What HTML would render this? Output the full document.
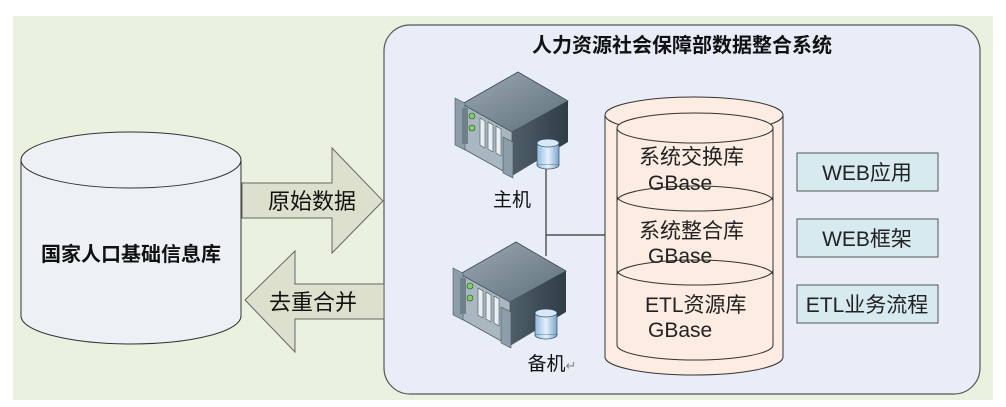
<!DOCTYPE html>
<html><head><meta charset="utf-8"><style>
html,body{margin:0;padding:0;background:#fff;}
body{width:1006px;height:407px;overflow:hidden;position:relative;font-family:"Liberation Sans","Noto Sans CJK SC",sans-serif;}
svg{position:absolute;left:0;top:0;}
</style></head><body>
<svg width="1006" height="407" viewBox="0 0 1006 407" xmlns="http://www.w3.org/2000/svg" font-family="'Liberation Sans','Noto Sans CJK SC',sans-serif">
<defs>
<linearGradient id="top" x1="0" y1="0" x2="1" y2="1"><stop offset="0" stop-color="#9aa8b2"/><stop offset="1" stop-color="#5f6f7a"/></linearGradient>
<linearGradient id="side" x1="0" y1="0" x2="1" y2="0"><stop offset="0" stop-color="#4f5e68"/><stop offset="1" stop-color="#2f3d46"/></linearGradient>
<linearGradient id="disk" x1="0" y1="0" x2="1" y2="0"><stop offset="0" stop-color="#8fb8dc"/><stop offset="0.5" stop-color="#e6f1fb"/><stop offset="1" stop-color="#7aa6cc"/></linearGradient>
<g id="srv">
<polygon points="462,104 518,72 568,101 512,132" fill="url(#top)" stroke="#3c4a52" stroke-width="0.8"/>
<polygon points="512,132 568,101 568,142 512,176" fill="url(#side)"/>
<polygon points="462,104 512,132 512,176 462,148" fill="#a8b7c0" stroke="#4a5860" stroke-width="0.8"/>
<polygon points="455,98 465,103 465,150 455,145" fill="#8d9ea8" stroke="#4a5860" stroke-width="0.6"/>
<polygon points="503,137 513,142 513,178 503,173" fill="#8d9ea8" stroke="#4a5860" stroke-width="0.6"/>
<rect x="462" y="108" width="6" height="36" fill="#6f808a"/>
<circle cx="472" cy="116" r="3" fill="#7fd060" stroke="#2e4a2e" stroke-width="0.6"/>
<circle cx="472" cy="128" r="3" fill="#7fd060" stroke="#2e4a2e" stroke-width="0.6"/>
<polygon points="480,118 485,121 485,148 480,145" fill="#e8eef2" stroke="#4a5860" stroke-width="0.6"/>
<polygon points="488,122 493,125 493,152 488,149" fill="#e8eef2" stroke="#4a5860" stroke-width="0.6"/>
<polygon points="496,126 501,129 501,156 496,153" fill="#e8eef2" stroke="#4a5860" stroke-width="0.6"/>
<rect x="537" y="143" width="22" height="22" fill="url(#disk)" stroke="#2d4a66" stroke-width="0.7"/>
<ellipse cx="548" cy="143" rx="11" ry="4" fill="#d8e8f6" stroke="#2d4a66" stroke-width="0.7"/>
<path d="M537,165 A11,4 0 0 0 559,165" fill="url(#disk)" stroke="#2d4a66" stroke-width="0.7"/>
</g>
</defs>
<rect x="13" y="16" width="980" height="384" fill="#ebf1df"/>
<rect x="384" y="25" width="596" height="369" rx="26" fill="#e8edf7" stroke="#555" stroke-width="1.2"/>
<text x="682" y="52" text-anchor="middle" font-size="20" font-weight="bold" fill="#111">人力资源社会保障部数据整合系统</text>
<path d="M21,160 L21,316 A110,28 0 0 0 241,316 L241,160" fill="#edf0f5" stroke="#333" stroke-width="1"/>
<ellipse cx="131" cy="160" rx="110" ry="28" fill="#edf0f5" stroke="#333" stroke-width="1"/>
<text x="131" y="261" text-anchor="middle" font-size="20" font-weight="bold" fill="#111">国家人口基础信息库</text>
<polygon points="242,183 332,183 332,148 383,201 332,253 332,218 242,218" fill="#dde0cc" stroke="#666" stroke-width="1"/>
<text x="312" y="209" text-anchor="middle" font-size="22" fill="#111">原始数据</text>
<polygon points="384,284 295,284 295,251 245,300 295,352 295,319 384,319" fill="#dde0cc" stroke="#666" stroke-width="1"/>
<text x="313" y="310" text-anchor="middle" font-size="22" fill="#111">去重合并</text>
<line x1="546" y1="165" x2="546" y2="256" stroke="#333" stroke-width="1.2"/>
<line x1="546" y1="235" x2="605" y2="235" stroke="#333" stroke-width="1.2"/>
<use href="#srv"/>
<use href="#srv" transform="translate(-2,170)"/>
<text x="512" y="206" text-anchor="middle" font-size="19" fill="#111">主机</text>
<text x="552" y="370" text-anchor="middle" font-size="19" fill="#111">备机<tspan fill="#888" font-size="13">↵</tspan></text>
<path d="M605,115 L605,357 A89,18 0 0 0 783,357 L783,115" fill="#fcece2" stroke="#333" stroke-width="1"/>
<ellipse cx="694" cy="115" rx="89" ry="18" fill="#fcece2" stroke="#333" stroke-width="1"/>
<path d="M617,128 L617,345 A78,15 0 0 0 773,345 L773,128" fill="#fcece2" stroke="#333" stroke-width="1"/>
<ellipse cx="695" cy="128" rx="78" ry="15" fill="#fcece2" stroke="#333" stroke-width="1"/>
<path d="M617,196 A78,15 0 0 0 773,196" fill="none" stroke="#333" stroke-width="1"/>
<path d="M617,201 A78,15 0 0 1 773,201" fill="none" stroke="#333" stroke-width="1"/>
<path d="M617,270 A78,15 0 0 0 773,270" fill="none" stroke="#333" stroke-width="1"/>
<path d="M617,275 A78,15 0 0 1 773,275" fill="none" stroke="#333" stroke-width="1"/>
<g font-size="21" fill="#222">
<text x="639" y="164">系统交换库</text><text x="648" y="190">GBase</text>
<text x="639" y="238">系统整合库</text><text x="648" y="263">GBase</text>
<text x="645" y="312">ETL资源库</text><text x="648" y="337">GBase</text>
</g>
<g fill="#d7eaf0" stroke="#555" stroke-width="1">
<rect x="797" y="153" width="141" height="38"/>
<rect x="797" y="219" width="141" height="38"/>
<rect x="797" y="285" width="141" height="38"/>
</g>
<g font-size="21" fill="#222" text-anchor="middle">
<text x="867" y="180">WEB应用</text>
<text x="867" y="246">WEB框架</text>
<text x="867" y="312">ETL业务流程</text>
</g>
</svg>
</body></html>
